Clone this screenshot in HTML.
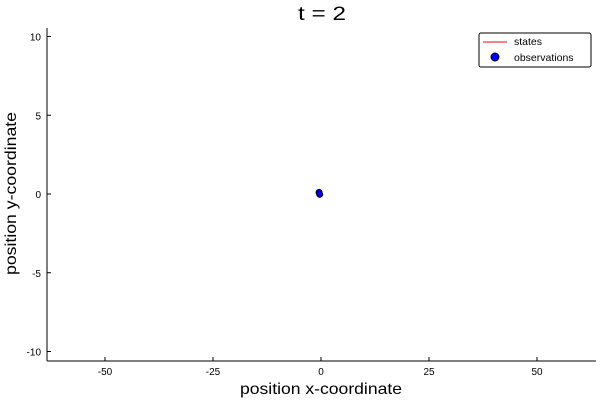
<!DOCTYPE html>
<html><head><meta charset="utf-8"><style>
body{margin:0;background:#fff;}
svg text{font-family:"Liberation Sans",sans-serif;}
</style></head><body>
<svg width="600" height="400">
<g id="g"></g>
</svg>
<script>
const xTicks=[-50,-25,0,25,50];
const yTicks=[10,5,0,-5,-10];
const statesX=[-0.3,-0.2];
const statesY=[-0.05,-0.1];
const obsX=[-0.45,-0.3];
const obsY=[0.1,-0.02];
const X0=47,X1=596,Y0=28,Y1=361;
const xs=v=>321+v*4.32, ys=v=>194-v*15.75;
const g=document.getElementById('g');
const NS='http://www.w3.org/2000/svg';
function mk(t,a,txt){const e=document.createElementNS(NS,t);for(const k in a)e.setAttribute(k,a[k]);if(txt!=null)e.textContent=txt;g.appendChild(e);return e;}
let e;
e=mk('line',{x1:X0,y1:Y1,x2:X1,y2:Y1,stroke:'#000'});


e=mk('line',{x1:X0,y1:Y0,x2:X0,y2:Y1,stroke:'#000'});


xTicks.forEach(t=>{
 mk('line',{x1:xs(t),y1:Y1,x2:xs(t),y2:Y1-4,stroke:'#000'});
 e=mk('text',{x:xs(t),y:Y1+14,'font-size':10,'text-anchor':'middle'},String(t));
 
 
});
yTicks.forEach(t=>{
 mk('line',{x1:X0,y1:ys(t),x2:X0+4,y2:ys(t),stroke:'#000'});
 e=mk('text',{x:X0-6,y:ys(t)+4,'font-size':10,'text-anchor':'end'},String(t));
 
 
});
e=mk('polyline',{points:statesX.map((v,i)=>xs(v)+','+ys(statesY[i])).join(' '),fill:'none',stroke:'red','stroke-width':1});


obsX.forEach((v,i)=>{
 e=mk('circle',{cx:xs(v),cy:ys(obsY[i]),r:3,fill:'blue',stroke:'#000','stroke-width':1});
 
 
});
e=mk('text',{x:298,y:20,'font-size':19,textLength:48,lengthAdjust:'spacingAndGlyphs'},'t = 2');


e=mk('text',{x:240,y:394,'font-size':16,textLength:162,lengthAdjust:'spacingAndGlyphs'},'position x-coordinate');


e=mk('text',{x:0,y:0,'font-size':16,textLength:163,lengthAdjust:'spacingAndGlyphs',transform:'translate(16 275) rotate(-90)'},'position y-coordinate');


e=mk('rect',{x:479,y:33,width:112,height:34,rx:2,fill:'#fff',stroke:'#000'});


mk('line',{x1:483,y1:42,x2:507,y2:42,stroke:'red'});
e=mk('text',{x:514,y:45,'font-size':10.5},'states');


mk('circle',{cx:495,cy:57,r:4,fill:'blue',stroke:'#000'});
e=mk('text',{x:514,y:61,'font-size':10.5},'observations');


</script>
</body></html>
